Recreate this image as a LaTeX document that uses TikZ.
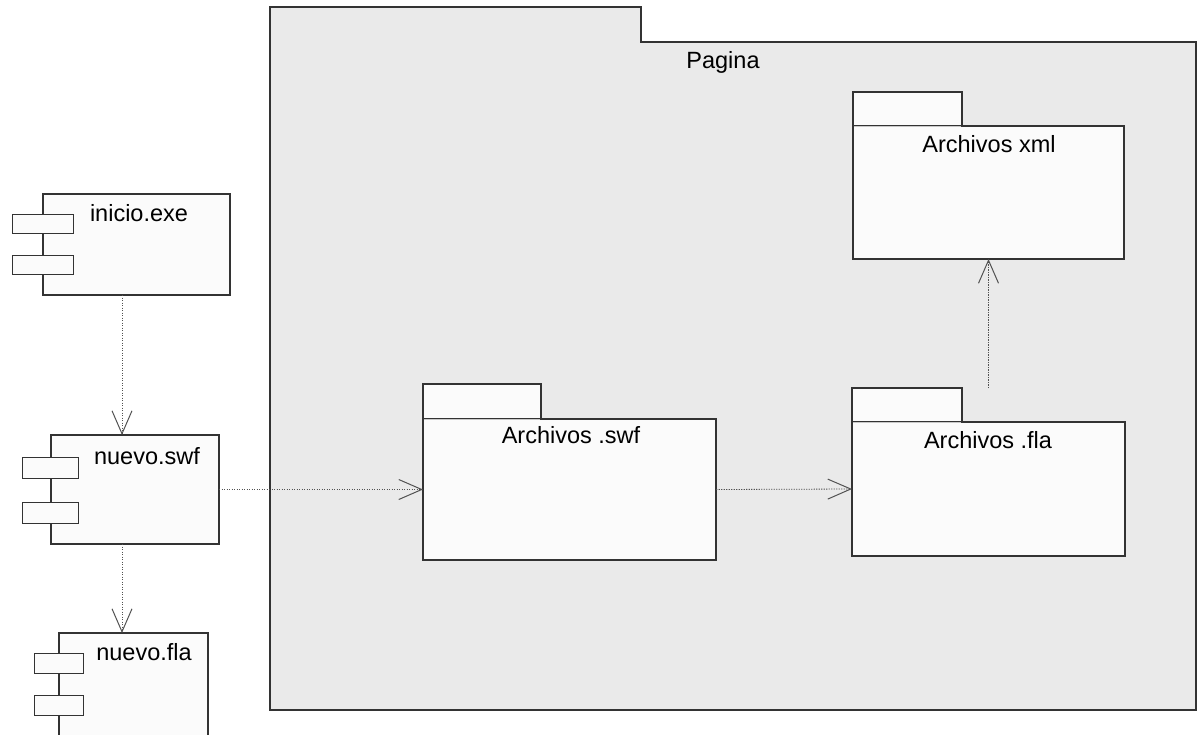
\documentclass[tikz,border=0pt]{standalone}
\usepackage{fontspec}
\setmainfont{Liberation Sans}
\usetikzlibrary{arrows.meta}
\definecolor{pagefill}{HTML}{EAEAEA}
\definecolor{boxfill}{HTML}{FBFBFB}
\definecolor{edge}{HTML}{333333}
\definecolor{seam}{HTML}{C8C8C8}
\begin{document}
\begin{tikzpicture}[x=1pt,y=-1pt,
  box/.style={draw=edge, fill=boxfill, line width=1.1pt, inner sep=0pt, outer sep=0pt, anchor=north west},
  portbox/.style={box, line width=1pt},
  tabline/.style={draw=edge, line width=1.1pt},
  lbl/.style={font=\fontsize{23.5}{28}\selectfont, inner sep=0pt, anchor=base, text=black},
  dep/.style={draw=edge!85, line width=0.8pt, dash pattern=on 1.4pt off 1.1pt,
    -{Straight Barb[length=23pt, width=20pt, line width=1pt]}},
]
\clip (0,0) rectangle (1198,734);

% outer package
\filldraw[fill=pagefill, tabline] (270,42) -- (270,7) -- (641,7) -- (641,42) -- cycle;
\node[box, fill=pagefill, minimum width=926pt, minimum height=668pt] (pagina) at (270,42) {};
\draw[pagefill, line width=1.4pt] (271,42) -- (640,42);
\node[lbl] (paginalbl) at (723,68) {Pagina};

% inner packages
\filldraw[fill=boxfill, tabline] (853,126) -- (853,92) -- (962,92) -- (962,126);
\node[box, minimum width=271pt, minimum height=133pt] (axml) at (853,126) {};
\draw[seam, line width=1pt] (854,126) -- (961,126);
\node[lbl] (axmllbl) at (989,152) {Archivos xml};

\filldraw[fill=boxfill, tabline] (423,419) -- (423,384) -- (541,384) -- (541,419);
\node[box, minimum width=293pt, minimum height=141pt] (aswf) at (423,419) {};
\draw[seam, line width=1pt] (424,419) -- (540,419);
\node[lbl] (aswflbl) at (571,443) {Archivos .swf};

\filldraw[fill=boxfill, tabline] (852,422) -- (852,388) -- (962,388) -- (962,422);
\node[box, minimum width=273pt, minimum height=134pt] (afla) at (852,422) {};
\draw[seam, line width=1pt] (853,422) -- (961,422);
\node[lbl] (aflalbl) at (988,448) {Archivos .fla};

% components
\node[box, minimum width=187pt, minimum height=101pt] (inicio) at (43,194) {};
\node[portbox, minimum width=61pt, minimum height=19pt] (inicioA) at (12,214) {};
\node[portbox, minimum width=61pt, minimum height=19pt] (inicioB) at (12,255) {};
\node[lbl] (iniciolbl) at (139,221) {inicio.exe};

\node[box, minimum width=168pt, minimum height=109pt] (nswf) at (51,435) {};
\node[portbox, minimum width=56pt, minimum height=21pt] (nswfA) at (22,457) {};
\node[portbox, minimum width=56pt, minimum height=21pt] (nswfB) at (22,502) {};
\node[lbl] (nswflbl) at (147,464) {nuevo.swf};

\node[box, minimum width=149pt, minimum height=130pt] (nfla) at (59,633) {};
\node[portbox, minimum width=49pt, minimum height=20pt] (nflaA) at (34,653) {};
\node[portbox, minimum width=49pt, minimum height=20pt] (nflaB) at (34,695) {};
\node[lbl] (nflalbl) at (144,660) {nuevo.fla};

% dependencies
\coordinate (colA) at (122,0);
\draw[dep] (inicio.south -| colA) -- (nswf.north -| colA);
\draw[dep] (nswf.south -| colA) -- (nfla.north -| colA);
\draw[dep] (nswf.east) -- (aswf.west);
\draw[dep] (aswf.east) -- (afla.west);
\draw[dep] ([yshift=34pt]afla.north) -- (axml.south);
\end{tikzpicture}
\end{document}
